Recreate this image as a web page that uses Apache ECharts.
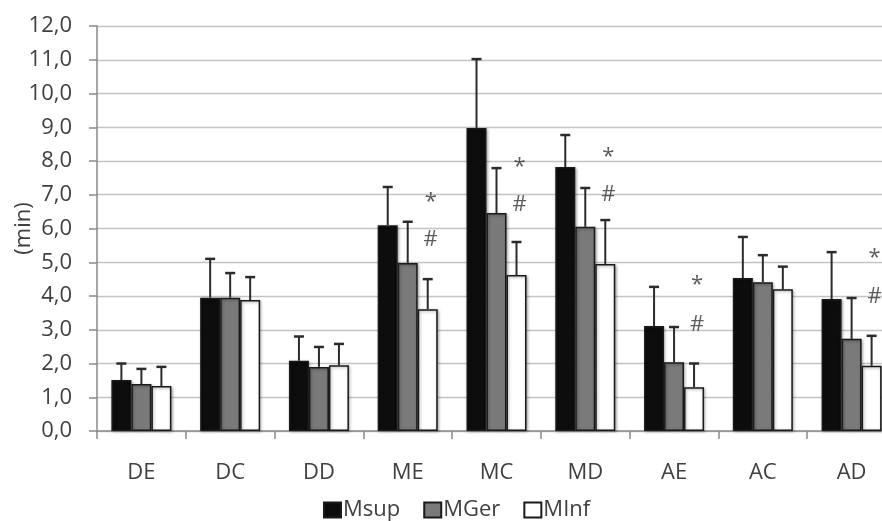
<!DOCTYPE html>
<html><head><meta charset="utf-8">
<script src="https://cdn.jsdelivr.net/npm/echarts@6/dist/echarts.min.js"></script>
<style>html,body{margin:0;padding:0;background:#fff}#c{width:882px;height:521px}</style>
</head><body><div id="c"></div>
<script>
const categories = ['DE','DC','DD','ME','MC','MD','AE','AC','AD'];
const msup = [1.51, 3.95, 2.08, 6.10, 8.98, 7.82, 3.11, 4.53, 3.91];
const msupSD = [0.49, 1.15, 0.72, 1.13, 2.04, 0.95, 1.16, 1.22, 1.39];
const mger = [1.39, 3.95, 1.90, 4.98, 6.46, 6.05, 2.04, 4.41, 2.73];
const mgerSD = [0.45, 0.73, 0.59, 1.22, 1.33, 1.15, 1.04, 0.80, 1.21];
const minf = [1.33, 3.88, 1.95, 3.61, 4.62, 4.95, 1.30, 4.20, 1.93];
const minfSD = [0.57, 0.68, 0.63, 0.89, 0.98, 1.30, 0.70, 0.67, 0.89];
const starCats = [3, 4, 5, 6, 8];
const starY = [6.93, 7.97, 8.27, 4.47, 5.27];
const hashCats = [3, 4, 5, 6, 8];
const hashY = [5.66, 6.70, 6.99, 3.14, 3.97];
const yTicks = [0,1,2,3,4,5,6,7,8,9,10,11,12];

const FONT = '"Open Sans", sans-serif';
const TXT = '#404040';
const BAR_W = 20;

function barSeries(name, data, color) {
  return {
    name, type: 'bar', data, barWidth: BAR_W, barGap: '0%',
    itemStyle: { color, borderColor: '#1a1a1a', borderWidth: 1.5,
      shadowBlur: 3, shadowColor: 'rgba(0,0,0,0.35)', shadowOffsetX: 1, shadowOffsetY: 1 }
  };
}
function errSeries(vals, sds, idx) {
  return {
    type: 'custom', silent: true, z: 5,
    data: vals.map((v, i) => [i, v, v + sds[i]]),
    renderItem: function (params, api) {
      const p0 = api.coord([api.value(0), api.value(1)]);
      const p1 = api.coord([api.value(0), api.value(2)]);
      const x = p0[0] + (idx - 1) * BAR_W;
      const st = { stroke: '#2b2b2b', lineWidth: 2 };
      return { type: 'group', children: [
        { type: 'line', shape: { x1: x, y1: p0[1], x2: x, y2: p1[1] }, style: st },
        { type: 'line', shape: { x1: x - 5, y1: p1[1], x2: x + 5, y2: p1[1] }, style: { stroke: '#2b2b2b', lineWidth: 2.5 } }
      ]};
    }
  };
}
function markSeries(cats, ys, text, dy) {
  return {
    type: 'scatter', silent: true, symbolSize: 0, z: 6,
    data: cats.map((c, i) => [c, ys[i]]),
    label: { show: true, formatter: text, position: 'inside', offset: [23, dy],
      color: '#333', fontSize: 22, fontFamily: FONT }
  };
}

const chart = echarts.init(document.getElementById('c'));
chart.setOption({
  animation: false,
  grid: { left: 97, width: 799, top: 26, bottom: 90, outerBoundsMode: 'none', containLabel: false },
  legend: {
    data: ['Msup', 'MGer', 'MInf'], top: 499, left: 323, padding: 0,
    icon: 'rect', itemWidth: 17, itemHeight: 15, itemGap: 23,
    textStyle: { color: TXT, fontSize: 22, fontFamily: FONT, padding: [0,0,0,-3] }
  },
  xAxis: {
    type: 'category', data: categories,
    axisLine: { lineStyle: { color: '#8a8a8a', width: 1.5 } },
    axisTick: { show: true, length: 8, lineStyle: { color: '#8a8a8a', width: 1.5 } },
    axisLabel: { color: TXT, fontSize: 22, fontFamily: FONT, margin: 31 }
  },
  yAxis: {
    type: 'value', min: 0, max: 12, interval: 1,
    name: '(min)', nameLocation: 'middle', nameGap: 62, nameRotate: 90, nameMoveOverlap: false,
    nameTextStyle: { color: TXT, fontSize: 22, fontFamily: FONT },
    axisLine: { show: true, lineStyle: { color: '#8a8a8a', width: 1.5 } },
    axisTick: { show: true, length: 8, lineStyle: { color: '#8a8a8a', width: 1.5 } },
    axisLabel: { color: TXT, fontSize: 22, fontFamily: FONT, margin: 25,
      formatter: v => yTicks.includes(v) ? v.toFixed(1).replace('.', ',') : '' },
    splitLine: { lineStyle: { color: '#c4c4c4', width: 1.3 } }
  },
  series: [
    barSeries('Msup', msup, '#0d0d0d'),
    barSeries('MGer', mger, '#7a7a7a'),
    barSeries('MInf', minf, '#ffffff'),
    errSeries(msup, msupSD, 0),
    errSeries(mger, mgerSD, 1),
    errSeries(minf, minfSD, 2),
    markSeries(starCats, starY, '*', 5),
    markSeries(hashCats, hashY, '#', 0)
  ]
});
</script></body></html>
